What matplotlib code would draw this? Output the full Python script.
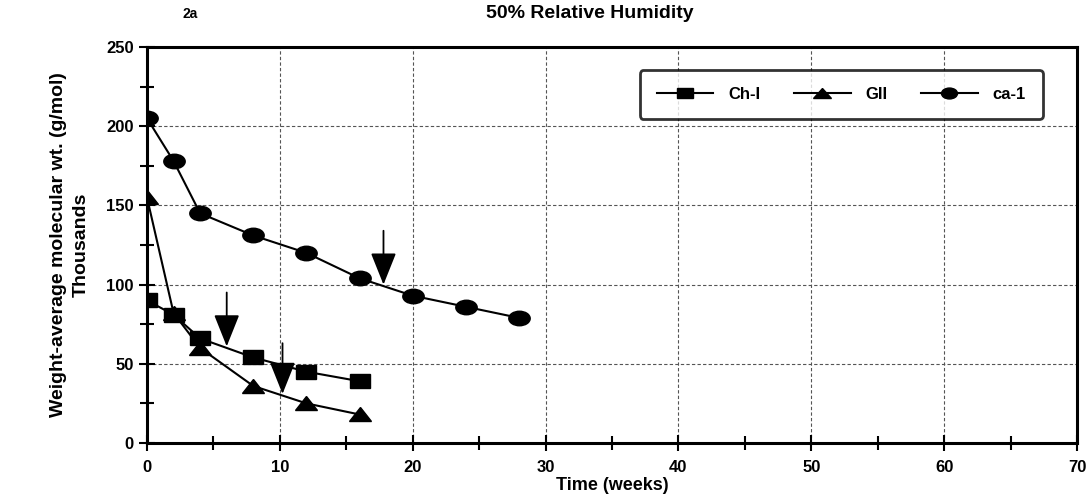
import numpy as np
import matplotlib
matplotlib.use('Agg')
from matplotlib import pyplot as plt
from matplotlib.markers import MarkerStyle
from matplotlib.transforms import Affine2D

# data (weeks, thousands g/mol)
t_ch = [0, 2, 4, 8, 12, 16]
mw_ch = [90, 81, 66, 54, 45, 39]
t_g = [0, 2, 4, 8, 12, 16]
mw_g = [155, 82, 60, 36, 25, 18]
t_ca = [0, 2, 4, 8, 12, 16, 20, 24, 28]
mw_ca = [205, 178, 145, 131, 120, 104, 93, 86, 79]

# arrows: x, top of shaft, tip
arrow_x = [6, 10.2, 17.8]
arrow_top = [95, 63, 134]
arrow_tip = [61, 31, 100]

plt.rcParams['font.family'] = ['Liberation Sans', 'DejaVu Sans']
plt.rcParams['font.weight'] = 'bold'


def wide(m, sx=1.45, sy=1.0):
    # scanned markers are squashed vertically
    return MarkerStyle(m, transform=Affine2D().scale(sx, sy))


fig = plt.figure(figsize=(10.88, 5.03), dpi=100)
ax = fig.add_axes([147/1088, 1-443/503, (1077-147)/1088, (443-47)/503])

ax.plot(t_ch, mw_ch, color='black', lw=1.5, marker=wide('s'), ms=10,
        label='Ch-I')
ax.plot(t_g, mw_g, color='black', lw=1.5, marker=wide('^', 1.5, 0.9), ms=11,
        label='GII')
ax.plot(t_ca, mw_ca, color='black', lw=1.5, marker=wide('o', 1.4, 0.95),
        ms=11, label='ca-1')

for x, top, tip in zip(arrow_x, arrow_top, arrow_tip):
    ax.annotate('', xy=(x, tip), xytext=(x, top),
                arrowprops=dict(arrowstyle='-|>,head_length=2.0,head_width=0.8',
                                color='black', lw=1.3, shrinkA=0, shrinkB=0))

ax.set_xlim(0, 70)
ax.set_ylim(0, 250)
ax.set_xticks(np.arange(0, 71, 10))
ax.set_xticks(np.arange(0, 71, 5), minor=True)
ax.set_yticks(np.arange(0, 251, 50))
ax.set_yticks(np.arange(0, 251, 25), minor=True)
ax.tick_params(which='both', direction='inout', length=12, width=1.5,
               labelsize=12)
ax.tick_params(which='minor', length=10)
ax.tick_params(axis='x', pad=6)
for lab in ax.get_xticklabels() + ax.get_yticklabels():
    lab.set_fontweight('bold')
ax.grid(True, which='major', color='#555555', ls=(0, (3, 2)), lw=0.8)
for s in ax.spines.values():
    s.set_linewidth(2.2)

ax.set_xlabel('Time (weeks)', fontsize=13, fontweight='bold', labelpad=2)
ax.set_ylabel('Weight-average molecular wt. (g/mol)\nThousands',
              fontsize=14, fontweight='bold', labelpad=12, linespacing=1.4)

leg = ax.legend(loc='upper right', bbox_to_anchor=(0.972, 0.962), ncol=3,
                fontsize=12, frameon=True, fancybox=True, edgecolor='black',
                handlelength=3.4, handletextpad=0.9, columnspacing=2.0,
                borderpad=1.0, markerscale=0.75)
leg.get_frame().set_linewidth(2)
for txt in leg.get_texts():
    txt.set_fontweight('bold')

fig.text(590/1088, 1-14/503, '50% Relative Humidity', ha='center', va='center',
         fontsize=14, fontweight='bold')
fig.text(190/1088, 1-14/503, '2a', ha='center', va='center',
         fontsize=10, fontweight='bold')

fig.savefig('out.png', dpi=100)
